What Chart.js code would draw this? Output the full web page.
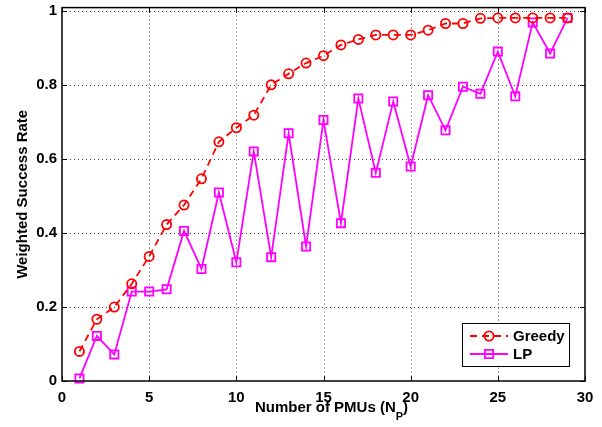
<!DOCTYPE html>
<html>
<head>
<meta charset="utf-8">
<script src="https://cdn.jsdelivr.net/npm/chart.js@4/dist/chart.umd.min.js"></script>
<style>
    html, body { margin: 0; padding: 0; background: #fff; }
    #wrap { width: 602px; height: 427px; }
</style>
</head>
<body>
<div id="wrap"><canvas id="rateChart" width="602" height="427"></canvas></div>
<script>
// Weighted success rate vs. number of PMUs

const pmuCounts = [1, 2, 3, 4, 5, 6, 7, 8, 9, 10, 11, 12, 13, 14, 15,
    16, 17, 18, 19, 20, 21, 22, 23, 24, 25, 26, 27, 28, 29];

const greedyRate = [0.080, 0.167, 0.200, 0.263, 0.337, 0.423, 0.476, 0.547, 0.647, 0.685,
    0.719, 0.801, 0.831, 0.860, 0.880, 0.909, 0.924, 0.936, 0.936, 0.936,
    0.949, 0.967, 0.967, 0.981, 0.982, 0.982, 0.982, 0.982, 0.982];

const lpRate = [0.007, 0.122, 0.072, 0.242, 0.242, 0.248, 0.406, 0.303, 0.510, 0.321,
    0.621, 0.335, 0.670, 0.364, 0.706, 0.427, 0.764, 0.563, 0.756, 0.580,
    0.773, 0.678, 0.796, 0.777, 0.891, 0.770, 0.970, 0.886, 0.982];

const xTicks = [0, 5, 10, 15, 20, 25, 30];
const yTicks = [0, 0.2, 0.4, 0.6, 0.8, 1];

const seriesNames = ['Greedy', 'LP'];
const RED = '#ff0000';
const MAGENTA = '#ff00ff';
const FONT = '"Liberation Sans", Arial, Helvetica, sans-serif';

// frame, dotted grid, inward ticks, axis titles and boxed legend
const matlabAxes = {
    id: 'matlabAxes',
    beforeDatasetsDraw(chart) {
        const { ctx, chartArea: a, scales: { x, y } } = chart;
        ctx.save();
        ctx.strokeStyle = '#444';
        ctx.lineWidth = 1;
        ctx.setLineDash([1, 3]);
        xTicks.forEach(v => {
            if (v <= 0 || v >= 30) return;
            const px = Math.round(x.getPixelForValue(v)) + 0.5;
            ctx.beginPath();
            ctx.moveTo(px, a.top);
            ctx.lineTo(px, a.bottom);
            ctx.stroke();
        });
        yTicks.forEach(v => {
            if (v <= 0) return;
            const py = Math.round(y.getPixelForValue(v)) + 0.5;
            ctx.beginPath();
            ctx.moveTo(a.left, py);
            ctx.lineTo(a.right, py);
            ctx.stroke();
        });
        ctx.restore();
    },
    afterDraw(chart) {
        const { ctx, chartArea: a, scales: { x, y } } = chart;
        ctx.save();

        // box
        ctx.strokeStyle = '#000';
        ctx.lineWidth = 1.5;
        ctx.strokeRect(a.left, a.top, a.right - a.left, a.bottom - a.top);

        // inward tick marks on all four sides
        const tl = 5;
        ctx.lineWidth = 1;
        ctx.beginPath();
        xTicks.forEach(v => {
            const px = Math.round(x.getPixelForValue(v)) + 0.5;
            ctx.moveTo(px, a.bottom); ctx.lineTo(px, a.bottom - tl);
            ctx.moveTo(px, a.top); ctx.lineTo(px, a.top + tl);
        });
        yTicks.forEach(v => {
            const py = Math.round(y.getPixelForValue(v)) + 0.5;
            ctx.moveTo(a.left, py); ctx.lineTo(a.left + tl, py);
            ctx.moveTo(a.right, py); ctx.lineTo(a.right - tl, py);
        });
        ctx.stroke();

        // x title with subscript
        ctx.fillStyle = '#000';
        ctx.textBaseline = 'alphabetic';
        const main = 'Number of PMUs (N';
        ctx.font = 'bold 15px ' + FONT;
        const wMain = ctx.measureText(main).width;
        ctx.font = 'bold 11px ' + FONT;
        const wSub = ctx.measureText('P').width;
        ctx.font = 'bold 15px ' + FONT;
        const wClose = ctx.measureText(')').width;
        const total = wMain + wSub + wClose;
        let tx = (a.left + a.right) / 2 + 8 - total / 2;
        const base = a.bottom + 31;
        ctx.textAlign = 'left';
        ctx.fillText(main, tx, base);
        tx += wMain;
        ctx.font = 'bold 11px ' + FONT;
        ctx.fillText('P', tx, base + 8);
        tx += wSub;
        ctx.font = 'bold 15px ' + FONT;
        ctx.fillText(')', tx, base);

        // y title
        ctx.save();
        ctx.translate(27, (a.top + a.bottom) / 2);
        ctx.rotate(-Math.PI / 2);
        ctx.textAlign = 'center';
        ctx.fillText('Weighted Success Rate', 0, 0);
        ctx.restore();

        // legend box
        const lw = 107, lh = 43;
        const lx = a.right - 16 - lw;
        const ly = a.bottom - 15 - lh;
        ctx.fillStyle = '#fff';
        ctx.fillRect(lx, ly, lw, lh);
        ctx.strokeStyle = '#000';
        ctx.lineWidth = 1;
        ctx.strokeRect(lx + 0.5, ly + 0.5, lw, lh);

        chart.data.datasets.forEach((ds, i) => {
            const ry = ly + 13 + i * 18;
            ctx.strokeStyle = ds.borderColor;
            ctx.lineWidth = ds.borderWidth;
            ctx.setLineDash(ds.borderDash || []);
            ctx.beginPath();
            ctx.moveTo(lx + 8, ry);
            ctx.lineTo(lx + 46, ry);
            ctx.stroke();
            ctx.setLineDash([]);
            const mx = lx + 27;
            ctx.beginPath();
            if (ds.pointStyle === 'circle') {
                ctx.arc(mx, ry, ds.pointRadius, 0, Math.PI * 2);
            } else {
                const s = ds.pointRadius * Math.SQRT1_2;
                ctx.rect(mx - s, ry - s, 2 * s, 2 * s);
            }
            ctx.stroke();
            ctx.fillStyle = '#000';
            ctx.font = 'bold 15px ' + FONT;
            ctx.textAlign = 'left';
            ctx.textBaseline = 'middle';
            ctx.fillText(ds.label, lx + 51, ry + 1);
        });

        ctx.restore();
    }
};

const ctx = document.getElementById('rateChart').getContext('2d');
new Chart(ctx, {
    type: 'line',
    data: {
        datasets: [
            {
                label: seriesNames[0],
                data: pmuCounts.map((n, i) => ({ x: n, y: greedyRate[i] })),
                borderColor: RED,
                borderWidth: 1.8,
                borderDash: [7, 5],
                pointStyle: 'circle',
                pointRadius: 4.6,
                pointBorderWidth: 1.8,
                pointBorderColor: RED,
                pointBackgroundColor: 'rgba(0,0,0,0)',
                tension: 0,
                fill: false
            },
            {
                label: seriesNames[1],
                data: pmuCounts.map((n, i) => ({ x: n, y: lpRate[i] })),
                borderColor: MAGENTA,
                borderWidth: 1.8,
                pointStyle: 'rect',
                pointRadius: 5.8,
                pointBorderWidth: 1.8,
                pointBorderColor: MAGENTA,
                pointBackgroundColor: 'rgba(0,0,0,0)',
                tension: 0,
                fill: false
            }
        ]
    },
    options: {
        responsive: false,
        animation: false,
        devicePixelRatio: 1,
        clip: false,
        layout: { padding: { top: 6, right: 17, left: 0, bottom: 0 } },
        plugins: {
            legend: { display: false },
            tooltip: { enabled: false }
        },
        scales: {
            x: {
                type: 'linear',
                min: 0,
                max: 30,
                afterBuildTicks: scale => { scale.ticks = xTicks.map(v => ({ value: v })); },
                afterFit: scale => {
                    scale.height = 46;
                    scale.paddingLeft = 0;
                    scale.paddingRight = 0;
                },
                grid: { display: false, drawTicks: false },
                border: { display: false },
                ticks: {
                    color: '#000',
                    padding: 8,
                    maxRotation: 0,
                    font: { family: FONT, size: 15, weight: 'bold' },
                    callback: v => String(v)
                }
            },
            y: {
                type: 'linear',
                min: 0,
                max: 1.01,
                afterBuildTicks: scale => { scale.ticks = yTicks.map(v => ({ value: v })); },
                afterFit: scale => {
                    scale.width = 62;
                    scale.paddingTop = 0;
                    scale.paddingBottom = 0;
                },
                grid: { display: false, drawTicks: false },
                border: { display: false },
                ticks: {
                    color: '#000',
                    padding: 5,
                    font: { family: FONT, size: 15, weight: 'bold' },
                    callback: v => String(Math.round(v * 10) / 10)
                }
            }
        }
    },
    plugins: [matlabAxes]
});
</script>
</body>
</html>
